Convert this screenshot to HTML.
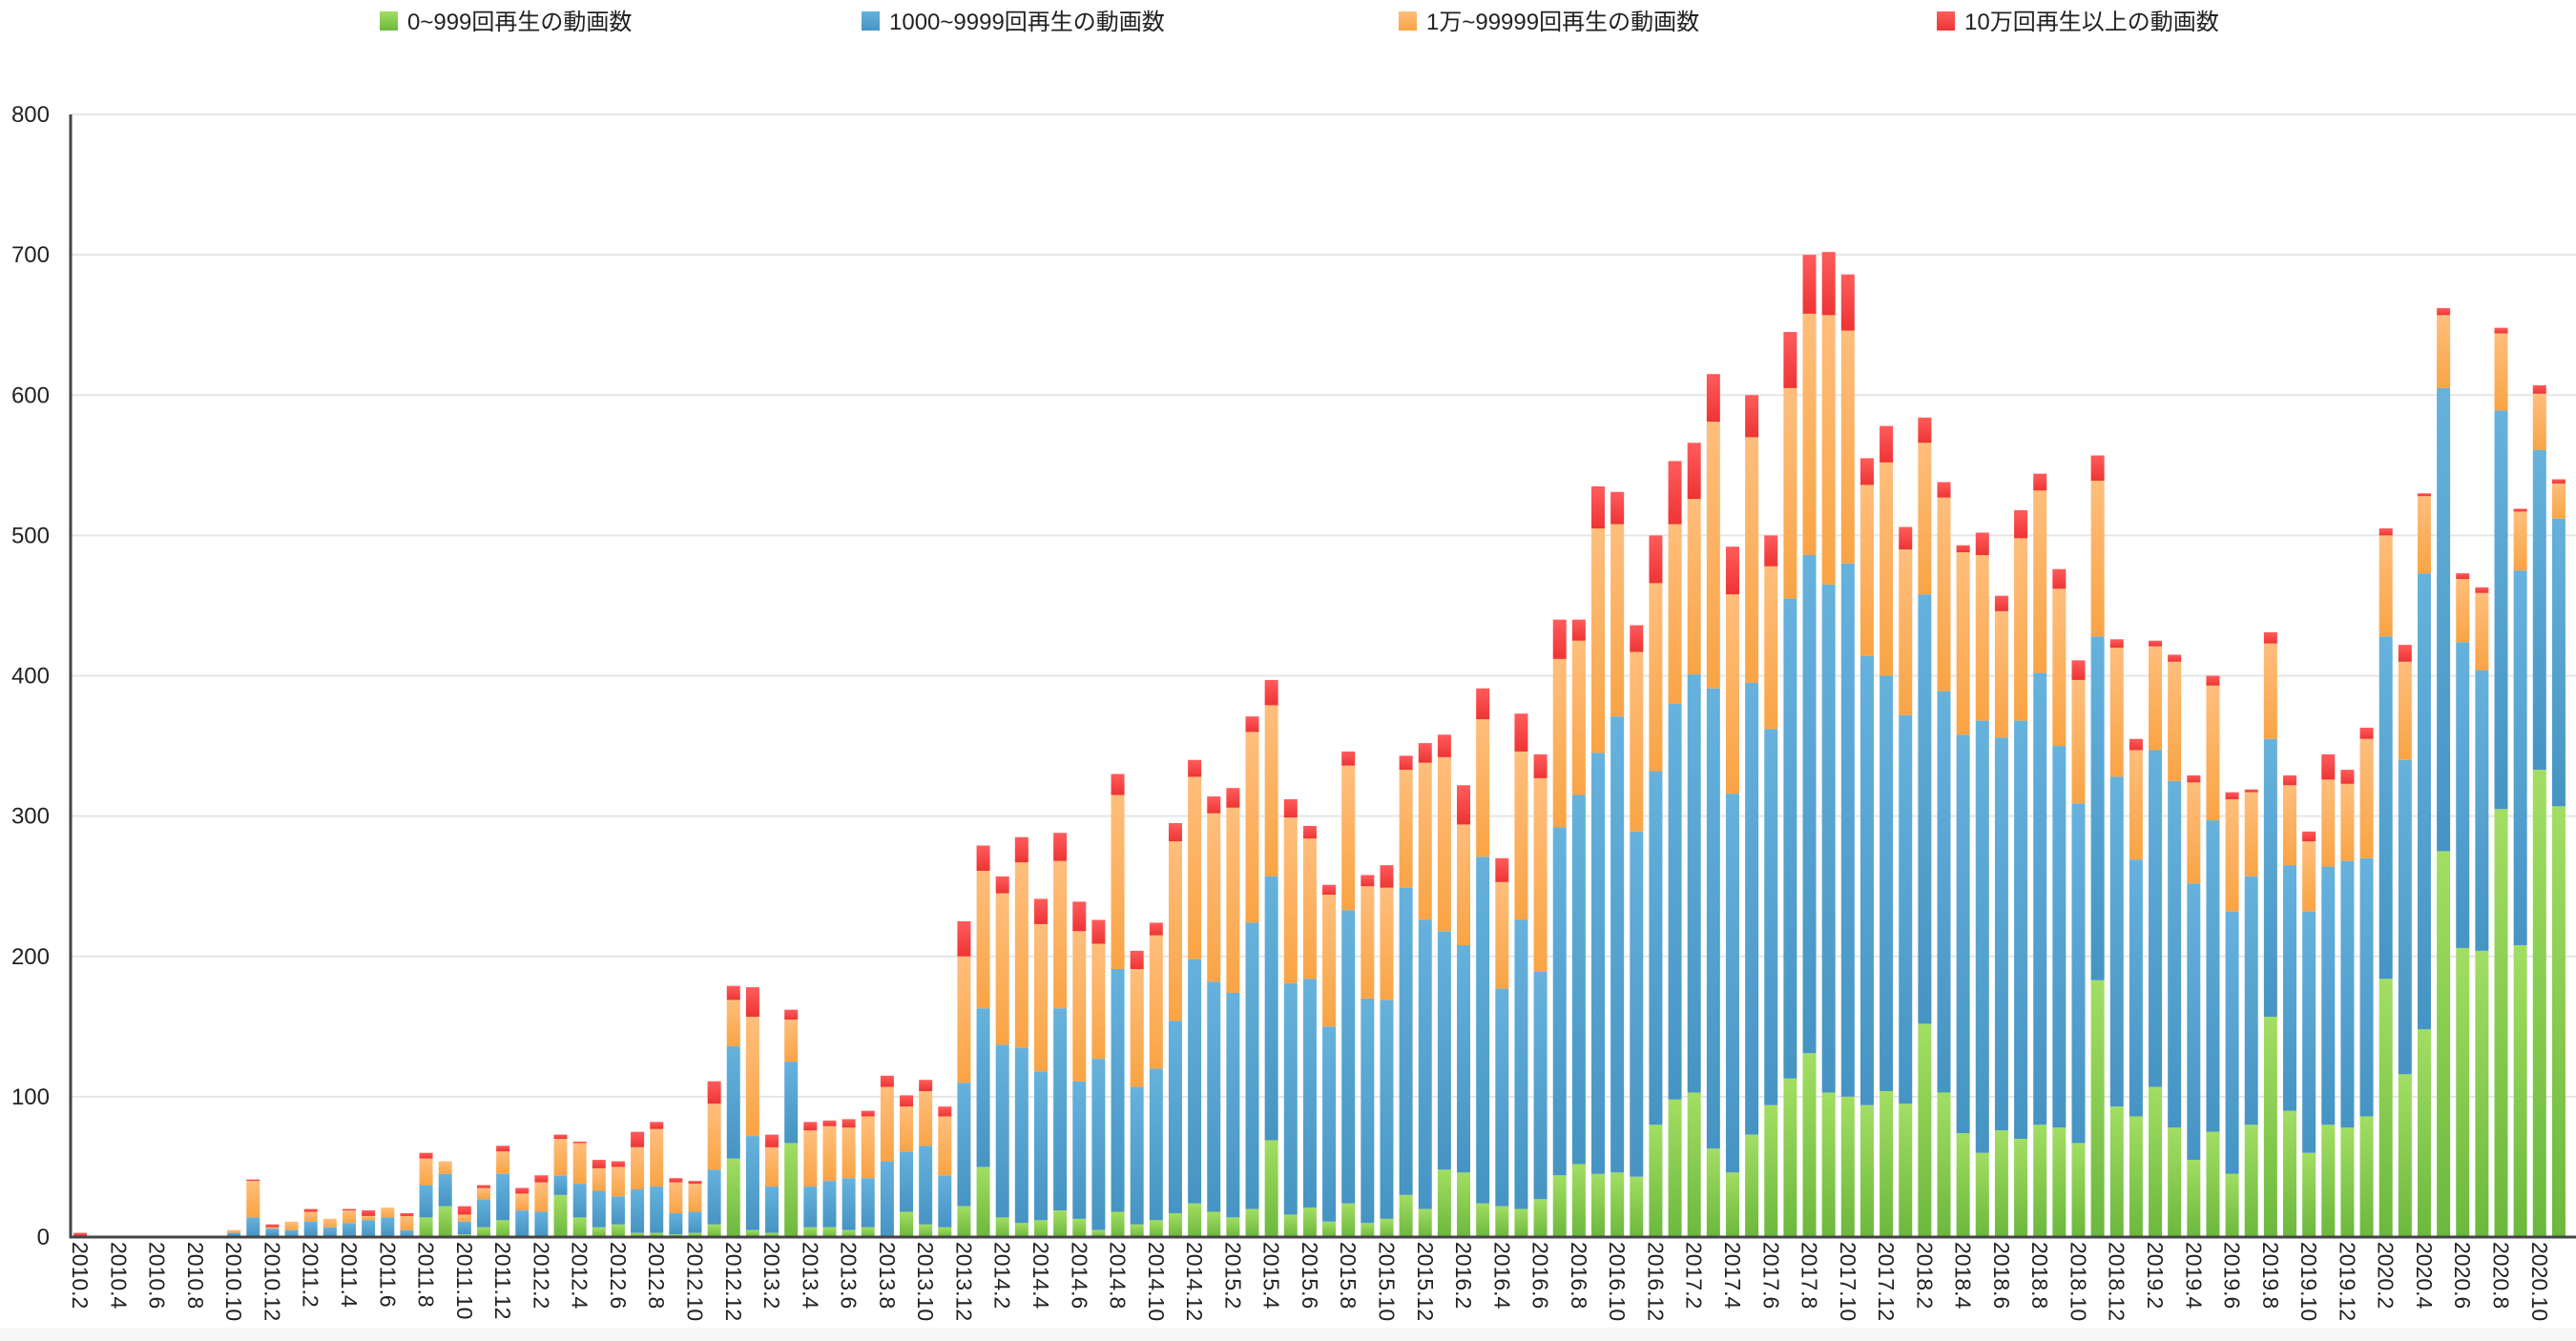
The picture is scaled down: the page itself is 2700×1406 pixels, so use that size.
<!DOCTYPE html>
<html><head><meta charset="utf-8">
<style>
html,body{margin:0;padding:0;background:#fff;}
svg{display:block;font-family:"Liberation Sans","Noto Sans CJK JP",sans-serif;}
</style></head>
<body>
<svg id="chart" width="2700" height="1406" viewBox="0 0 2700 1406" xmlns="http://www.w3.org/2000/svg">
<defs>
<linearGradient id="gG" x1="0" y1="0" x2="0" y2="1"><stop offset="0" stop-color="#a2de63"/><stop offset="1" stop-color="#6cb83d"/></linearGradient>
<linearGradient id="gB" x1="0" y1="0" x2="0" y2="1"><stop offset="0" stop-color="#66b2dd"/><stop offset="1" stop-color="#4694c3"/></linearGradient>
<linearGradient id="gO" x1="0" y1="0" x2="0" y2="1"><stop offset="0" stop-color="#ffbe7c"/><stop offset="1" stop-color="#f9a445"/></linearGradient>
<linearGradient id="gR" x1="0" y1="0" x2="0" y2="1"><stop offset="0" stop-color="#ff5c5c"/><stop offset="1" stop-color="#ee3434"/></linearGradient>
</defs>
<rect x="0" y="1392" width="2700" height="14" fill="#f6f6f6"/>
<g id="grid"></g><g id="bars"></g><g id="axes"></g><g id="legend"></g>
</svg>
<script>
const categories = [];
for (let y = 2010; y <= 2020; y++) for (let m = 1; m <= 12; m++) {
  if (y === 2010 && m < 2) continue;
  if (y === 2020 && m > 11) continue;
  categories.push(y + "." + m);
}
const green = [0,0,0,0,0,0,0,0,1,0,1,0,1,0,0,0,1,0,14,22,2,7,12,1,0,30,14,7,9,3,3,2,3,9,56,5,3,67,7,7,5,7,0,18,9,7,22,50,14,10,12,19,13,5,18,9,12,17,24,18,14,20,69,16,21,11,24,10,13,30,20,48,46,24,22,20,27,44,52,45,46,43,80,98,103,63,46,73,94,113,131,103,100,94,104,95,152,103,74,60,76,70,80,78,67,183,93,86,107,78,55,75,45,80,157,90,60,80,78,86,184,116,148,275,206,204,305,208,333,307];
const blue = [0,0,0,0,0,0,0,0,2,14,5,5,10,7,10,12,13,5,23,23,9,20,33,18,18,14,24,26,20,31,33,15,15,39,80,67,33,58,29,33,37,35,54,43,56,37,88,113,123,125,106,144,98,122,173,98,108,137,174,164,160,204,188,165,163,139,209,160,156,219,206,170,162,247,155,206,162,248,263,300,325,246,252,282,298,328,270,322,268,342,355,362,380,320,296,277,306,286,284,308,280,298,322,272,242,245,235,183,240,247,197,222,187,177,198,175,172,184,190,184,244,224,325,330,218,200,284,267,228,205];
const orange = [1,0,0,0,1,0,0,0,2,26,1,6,7,6,9,3,7,10,19,9,5,8,16,12,21,26,29,16,21,30,41,22,20,47,33,85,28,30,40,39,36,44,53,32,39,42,90,98,108,132,105,105,107,82,124,84,95,128,130,120,132,136,122,118,100,94,103,80,80,84,112,124,86,98,76,120,138,120,110,160,137,128,134,128,125,190,142,175,116,150,172,192,166,122,152,118,108,138,130,118,90,130,130,112,88,111,92,78,74,85,72,96,80,60,68,57,50,62,55,85,72,70,55,52,45,55,55,42,40,25];
const red = [2,0,0,0,0,0,0,0,0,1,2,0,2,0,1,4,0,2,4,0,6,2,4,4,5,3,1,6,4,11,5,3,2,16,10,21,9,7,6,4,6,4,8,8,8,7,25,18,12,18,18,20,21,17,15,13,9,13,12,12,14,11,18,13,9,7,10,8,16,10,14,16,28,22,17,27,17,28,15,30,23,19,34,45,40,34,34,30,22,40,42,45,40,19,26,16,18,11,5,16,11,20,12,14,14,18,6,8,4,5,5,7,5,2,8,7,7,18,10,8,5,12,2,5,4,4,4,2,6,3];
const yTicks = [0,100,200,300,400,500,600,700,800];
const seriesNames = ["0~999回再生の動画数","1000~9999回再生の動画数","1万~99999回再生の動画数","10万回再生以上の動画数"];

const NS = "http://www.w3.org/2000/svg";
const X0 = 74, X1 = 2692, Y0 = 1297, Y800 = 120;
const slot = (X1 - X0) / categories.length;
const barW = 14;
function yScale(v){ return Y0 - (Y0 - Y800) * v / 800; }
function xCenter(i){ return X0 + slot * (i + 0.5); }
function mk(tag, attrs, parent){ const e = document.createElementNS(NS, tag); for (const k in attrs) e.setAttribute(k, attrs[k]); parent.appendChild(e); return e; }

const grid = document.getElementById("grid");
yTicks.forEach(t => {
  const y = yScale(t);
  if (t > 0) {
    const l = mk("line", {x1: X0, x2: 2700, y1: y, y2: y, stroke: "#e6e6e6", "stroke-width": 2}, grid);
    
    
  }
  const tx = mk("text", {x: 52, y: y + 8, "text-anchor": "end", "font-size": 24, fill: "#222"}, grid);
  tx.textContent = t;
  
  
});

const bars = document.getElementById("bars");
const series = [green, blue, orange, red];
const fills = ["url(#gG)", "url(#gB)", "url(#gO)", "url(#gR)"];
const snames = ["green", "blue", "orange", "red"];
categories.forEach((c, i) => {
  let acc = 0;
  const g = mk("g", {}, bars);
  
  
  series.forEach((s, k) => {
    const v = s[i] || 0;
    if (v <= 0) return;
    const yt = yScale(acc + v), yb = yScale(acc);
    const r = mk("rect", {x: xCenter(i) - barW / 2, y: yt, width: barW, height: yb - yt, fill: fills[k]}, g);
    
    
    acc += v;
  });
  if (i % 2 === 0) {
    const lx = xCenter(i) - 8, ly = 1302;
    const t = mk("text", {x: lx, y: ly, "font-size": 23, fill: "#222", transform: "rotate(90 " + lx + " " + ly + ")"}, bars);
    t.textContent = c;
    
    
  }
});

const axes = document.getElementById("axes");
const ya = mk("line", {x1: X0, x2: X0, y1: Y800, y2: Y0 + 1, stroke: "#444", "stroke-width": 3}, axes);


const xa = mk("line", {x1: X0 - 1, x2: 2700, y1: Y0, y2: Y0, stroke: "#444", "stroke-width": 3}, axes);



const legend = document.getElementById("legend");
const lx = [398, 903, 1466, 2030];
seriesNames.forEach((n, k) => {
  const g = mk("g", {}, legend);
  
  
  mk("rect", {x: lx[k], y: 12, width: 19, height: 20, fill: fills[k]}, g);
  const t = mk("text", {x: lx[k] + 29, y: 31, "font-size": 24, fill: "#222"}, g);
  t.textContent = n;
});
</script>
</body></html>
